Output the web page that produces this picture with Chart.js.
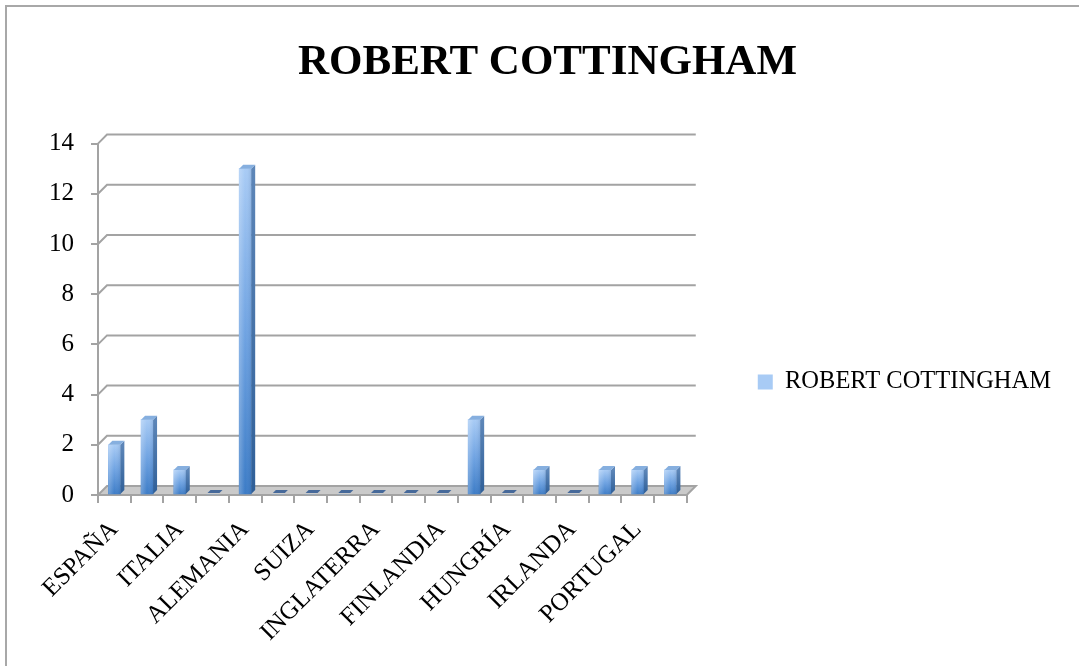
<!DOCTYPE html>
<html lang="es">
<head>
  <meta charset="UTF-8" />
  <title>Robert Cottingham</title>
  <script src="https://cdn.jsdelivr.net/npm/chart.js"></script>
  <style>
    body { margin: 0; background: #fff; }
    #wrap { position: relative; width: 1079px; height: 666px; overflow: hidden; }
    #frame { position: absolute; left: 5px; top: 5px; width: 1200px; height: 800px; border: 2px solid #a8a8a8; }
    #chart { position: absolute; left: 0; top: 0; }
  </style>
</head>
<body>
  <div id="wrap">
    <div id="frame"></div>
    <canvas id="chart" width="1079" height="666"></canvas>
  </div>
  <script>
    const seriesName = 'ROBERT COTTINGHAM';
    const countries = ['ESPAÑA', 'FRANCIA', 'ITALIA', 'BÉLGICA', 'ALEMANIA', 'HOLANDA',
      'SUIZA', 'AUSTRIA', 'INGLATERRA', 'NORUEGA', 'FINLANDIA', 'SUECIA',
      'HUNGRÍA', 'POLONIA', 'IRLANDA', 'ESCOCIA', 'PORTUGAL', 'GRECIA'];
    const works = [2, 3, 1, 0, 13, 0, 0, 0, 0, 0, 0, 3, 0, 1, 0, 1, 1, 1];
    const yTicks = [0, 2, 4, 6, 8, 10, 12, 14];

    const serif = "'Liberation Serif', 'DejaVu Serif', serif";
    const depth = 9;        // wall/floor depth
    const side = 4;         // column side thickness
    const legendDrop = 44;  // legend sits a bit below the plot middle
    const gridGray = '#a3a3a3';

    // back wall grid, floor, column sides/tops and flat markers for empty columns
    const walls = {
      id: 'walls',
      afterInit(chart) {
        const legend = chart.legend;
        const fit = legend.fit;
        const draw = legend.draw;
        // the layout caps side boxes at a quarter of the width; let the legend keep its full width
        legend.fit = function () {
          fit.call(this);
          if (!this.isHorizontal() && this.columnSizes && this.columnSizes.length) {
            this.width = this.columnSizes[0].width + this.options.labels.padding + 10;
          }
        };
        legend.draw = function () {
          const ctx = this.ctx;
          ctx.save();
          ctx.translate(0, legendDrop);
          draw.call(this);
          ctx.restore();
        };
      },
      beforeDatasetsDraw(chart) {
        const { ctx, chartArea: { left, right, bottom }, scales: { y } } = chart;
        ctx.save();
        ctx.strokeStyle = gridGray;
        ctx.lineWidth = 2;
        yTicks.forEach(v => {
          if (v === 0) return;
          const py = y.getPixelForValue(v);
          ctx.beginPath();
          ctx.moveTo(left, py);
          ctx.lineTo(left + depth, py - depth);
          ctx.lineTo(right + depth, py - depth);
          ctx.stroke();
        });
        ctx.beginPath();
        ctx.moveTo(left, bottom);
        ctx.lineTo(right, bottom);
        ctx.lineTo(right + depth, bottom - depth);
        ctx.lineTo(left + depth, bottom - depth);
        ctx.closePath();
        ctx.fillStyle = '#cacaca';
        ctx.fill();
        ctx.stroke();

        const meta = chart.getDatasetMeta(0);
        ctx.fillStyle = '#46699a';
        meta.data.forEach((bar, i) => {
          if (works[i] !== 0) return;
          const x0 = bar.x - bar.width / 2;
          const x1 = bar.x + bar.width / 2;
          ctx.beginPath();
          ctx.moveTo(x0 + 1, bottom - 2);
          ctx.lineTo(x1 + 1, bottom - 2);
          ctx.lineTo(x1 + 4, bottom - 5);
          ctx.lineTo(x0 + 4, bottom - 5);
          ctx.closePath();
          ctx.fill();
        });
        ctx.restore();
      },
      afterDatasetsDraw(chart) {
        const { ctx } = chart;
        const meta = chart.getDatasetMeta(0);
        ctx.save();
        meta.data.forEach((bar, i) => {
          if (works[i] === 0) return;
          const xr = bar.x + bar.width / 2;
          const xl = bar.x - bar.width / 2;
          // light left edge of the front face
          const sheen = ctx.createLinearGradient(xl, 0, xr, 0);
          sheen.addColorStop(0, 'rgba(255,255,255,0.25)');
          sheen.addColorStop(0.5, 'rgba(255,255,255,0)');
          sheen.addColorStop(1, 'rgba(20,50,100,0.12)');
          ctx.fillStyle = sheen;
          ctx.fillRect(xl, bar.y, xr - xl, bar.base - bar.y);
          // right side
          const g = ctx.createLinearGradient(0, bar.y, 0, bar.base);
          g.addColorStop(0, '#5d86b8');
          g.addColorStop(1, '#2f5f98');
          ctx.fillStyle = g;
          ctx.beginPath();
          ctx.moveTo(xr, bar.y);
          ctx.lineTo(xr + side, bar.y - side);
          ctx.lineTo(xr + side, bar.base - side);
          ctx.lineTo(xr, bar.base);
          ctx.closePath();
          ctx.fill();
          // top
          ctx.fillStyle = '#86afdf';
          ctx.beginPath();
          ctx.moveTo(xl, bar.y);
          ctx.lineTo(xr, bar.y);
          ctx.lineTo(xr + side, bar.y - side);
          ctx.lineTo(xl + side, bar.y - side);
          ctx.closePath();
          ctx.fill();
        });
        ctx.restore();
      }
    };

    function columnFill(c) {
      const chart = c.chart;
      if (c.type !== 'data' || !chart.chartArea) return '#7aaee9';
      const y = chart.scales.y;
      const top = y.getPixelForValue(c.raw);
      const base = y.getPixelForValue(0);
      if (base - top < 1) return '#7aaee9';
      const g = chart.ctx.createLinearGradient(0, top, 0, base);
      g.addColorStop(0, '#a8cbf5');
      g.addColorStop(0.5, '#6fa3e2');
      g.addColorStop(1, '#3b7bc6');
      return g;
    }

    new Chart(document.getElementById('chart'), {
      type: 'bar',
      data: {
        labels: countries,
        datasets: [{
          label: seriesName,
          data: works,
          backgroundColor: columnFill,
          borderWidth: 0,
          barThickness: 12
        }]
      },
      options: {
        responsive: false,
        animation: false,
        layout: { padding: { left: 34, right: 18, top: 10, bottom: 0 } },
        plugins: {
          title: {
            display: true,
            text: seriesName,
            color: '#000',
            font: { family: serif, size: 43, weight: 'bold' },
            padding: { top: 27, bottom: 55 }
          },
          legend: {
            position: 'right',
            labels: {
              color: '#000',
              font: { family: serif, size: 24.5 },
              boxWidth: 15,
              boxHeight: 15,
              padding: 71
            }
          },
          tooltip: { enabled: false }
        },
        scales: {
          x: {
            grid: { drawOnChartArea: false, tickLength: 8, color: gridGray, lineWidth: 2 },
            border: { display: false },
            ticks: {
              autoSkip: false,
              minRotation: 45,
              maxRotation: 45,
              color: '#000',
              font: { family: serif, size: 25 },
              padding: 12,
              callback(v, i) { return i % 2 === 0 ? this.getLabelForValue(v) : ''; }
            },
            afterFit(s) { s.height = 171; }
          },
          y: {
            min: 0,
            max: 14,
            grid: { drawOnChartArea: false, tickLength: 7, color: gridGray, lineWidth: 2 },
            border: { color: gridGray, width: 2 },
            ticks: {
              stepSize: 2,
              color: '#000',
              font: { family: serif, size: 25 },
              padding: 17
            },
            afterFit(s) { s.width = 64; }
          }
        }
      },
      plugins: [walls]
    });
  </script>
</body>
</html>
